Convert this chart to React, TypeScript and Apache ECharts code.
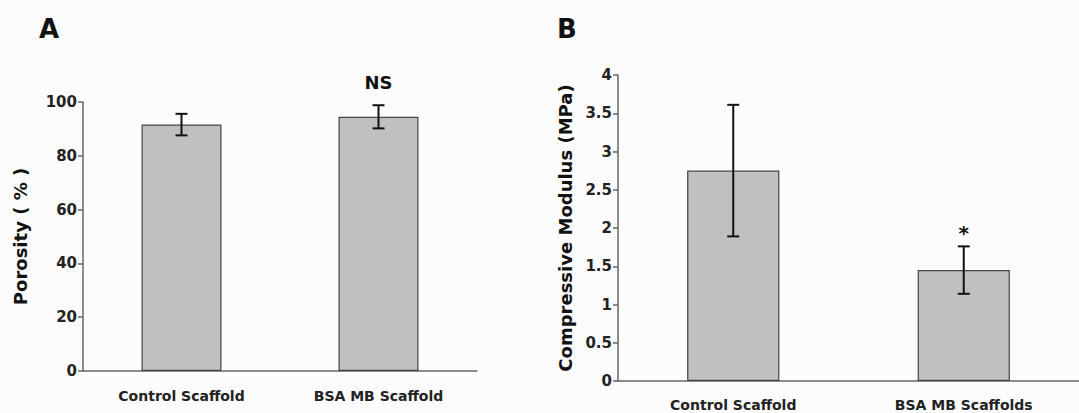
import React, { useEffect, useRef } from "react";
import * as echarts from "echarts";

const categoriesA = ["Control Scaffold", "BSA MB Scaffold"];
const porosity = [91.6, 94.5];
const porosityErr = [4.0, 4.3];

const categoriesB = ["Control Scaffold", "BSA MB Scaffolds"];
const modulus = [2.75, 1.45];
const modulusErr = [0.86, 0.31];

const FONT = "'DejaVu Sans', 'Liberation Sans', Arial, sans-serif";

function errorSeries(xi: number, yi: number, values: number[], errs: number[]) {
  return {
    type: "custom",
    xAxisIndex: xi,
    yAxisIndex: yi,
    z: 10,
    data: values.map((v, i) => [i, v - errs[i], v + errs[i]]),
    renderItem: (params: any, api: any) => {
      const x = api.value(0);
      const lo = api.coord([x, api.value(1)]);
      const hi = api.coord([x, api.value(2)]);
      const hw = 6;
      const style = { stroke: "#111", lineWidth: 2 };
      return {
        type: "group",
        children: [
          { type: "line", shape: { x1: lo[0], y1: lo[1], x2: hi[0], y2: hi[1] }, style },
          { type: "line", shape: { x1: lo[0] - hw, y1: lo[1], x2: lo[0] + hw, y2: lo[1] }, style },
          { type: "line", shape: { x1: hi[0] - hw, y1: hi[1], x2: hi[0] + hw, y2: hi[1] }, style },
        ],
      };
    },
  };
}

export default function App() {
  const ref = useRef<HTMLDivElement>(null);
  useEffect(() => {
    if (!ref.current) return;
    const chart = echarts.init(ref.current, null, { renderer: "svg" });
    const tickLabel = { fontFamily: FONT, fontWeight: "bold", fontSize: 15, color: "#222", margin: 6 };
    const catLabel = { fontFamily: FONT, fontWeight: "bold", fontSize: 14, color: "#222" };
    const yCommon = {
      type: "value",
      axisLine: { show: true, lineStyle: { color: "#666", width: 1.5 } },
      axisTick: { show: true, length: 5, lineStyle: { color: "#666", width: 1.5 } },
      splitLine: { show: false },
      nameLocation: "middle",
      nameRotate: 90,
      nameTextStyle: { fontFamily: FONT, fontWeight: "bold", fontSize: 18, color: "#111" },
    };
    const xCommon = {
      type: "category",
      axisLine: { show: true, lineStyle: { color: "#666", width: 1.5 } },
      axisTick: { show: false },
    };
    chart.setOption({
      animation: false,
      backgroundColor: "#fcfcfc",
      grid: [
        { left: 83, top: 102, width: 394, height: 269 },
        { left: 618, top: 75, width: 461, height: 306 },
      ],
      xAxis: [
        { ...xCommon, gridIndex: 0, data: categoriesA, axisLabel: { ...catLabel, margin: 18 } },
        { ...xCommon, gridIndex: 1, data: categoriesB, axisLabel: { ...catLabel, margin: 17 } },
      ],
      yAxis: [
        {
          ...yCommon,
          gridIndex: 0,
          min: 0,
          max: 100,
          interval: 20,
          name: "Porosity ( % )",
          nameGap: 54,
          axisLabel: tickLabel,
        },
        {
          ...yCommon,
          gridIndex: 1,
          min: 0,
          max: 4,
          interval: 0.5,
          name: "Compressive Modulus (MPa)",
          nameGap: 44,
          axisLabel: tickLabel,
        },
      ],
      series: [
        {
          type: "bar",
          xAxisIndex: 0,
          yAxisIndex: 0,
          data: porosity,
          barWidth: "40.6%",
          itemStyle: { color: "#c0c0c0", borderColor: "#444", borderWidth: 1.2 },
          label: {
            show: true,
            position: "top",
            distance: 25,
            formatter: (p: any) => (p.dataIndex === 1 ? "NS" : ""),
            fontFamily: FONT,
            fontWeight: "bold",
            fontSize: 18,
            color: "#111",
          },
        },
        errorSeries(0, 0, porosity, porosityErr),
        {
          type: "bar",
          xAxisIndex: 1,
          yAxisIndex: 1,
          data: modulus,
          barWidth: "40%",
          itemStyle: { color: "#c0c0c0", borderColor: "#444", borderWidth: 1.2 },
          label: {
            show: true,
            position: "top",
            distance: 27,
            formatter: (p: any) => (p.dataIndex === 1 ? "*" : ""),
            fontFamily: FONT,
            fontWeight: "bold",
            fontSize: 20,
            color: "#111",
          },
        },
        errorSeries(1, 1, modulus, modulusErr),
      ],
      graphic: [
        {
          type: "text",
          left: 39,
          top: 16,
          style: { text: "A", font: `bold 26px ${FONT}`, fill: "#111" },
        },
        {
          type: "text",
          left: 557,
          top: 16,
          style: { text: "B", font: `bold 26px ${FONT}`, fill: "#111" },
        },
      ],
    });
    return () => chart.dispose();
  }, []);
  return (
    <div
      ref={ref}
      style={{ position: "absolute", left: 0, top: 0, width: 1079, height: 413 }}
    />
  );
}
